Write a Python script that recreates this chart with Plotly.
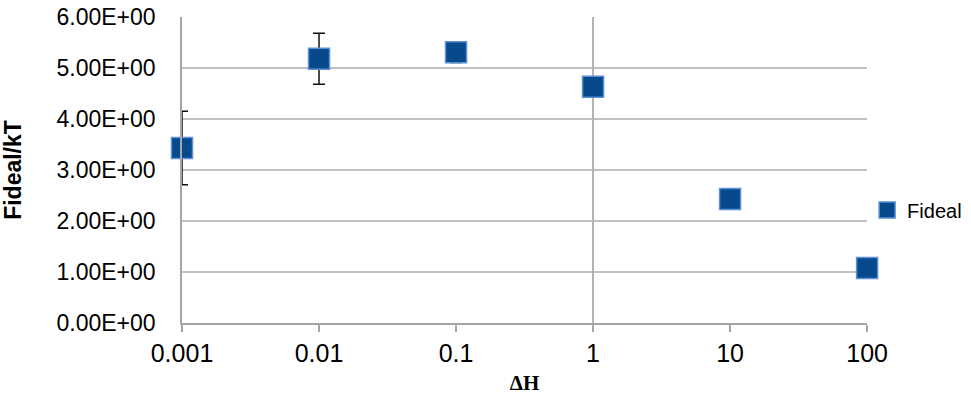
import plotly.graph_objects as go

dH = [0.001, 0.01, 0.1, 1, 10, 100]
fideal = [3.43, 5.18, 5.31, 4.63, 2.43, 1.08]
err = [0.72, 0.50, 0.20, 0.0, 0.0, 0.0]
y_ticks = [0, 1, 2, 3, 4, 5, 6]
y_tick_text = ["0.00E+00", "1.00E+00", "2.00E+00", "3.00E+00", "4.00E+00", "5.00E+00", "6.00E+00"]
x_ticks = [0.001, 0.01, 0.1, 1, 10, 100]
x_tick_text = ["0.001", "0.01", "0.1", "1", "10", "100"]
x_grid = [1, 100]

fig = go.Figure()
fig.add_trace(go.Scatter(
    x=dH, y=fideal, mode="markers", name="Fideal",
    marker=dict(symbol="square", size=21, color="#064A8C",
                line=dict(color="#5B8FD6", width=1.5)),
    error_y=dict(type="data", array=err, visible=True, color="#111111",
                 thickness=1.5, width=6),
    cliponaxis=False,
))
fig.add_trace(go.Scatter(x=[None], y=[None], xaxis="x2", showlegend=False, hoverinfo="skip"))

fig.update_layout(
    width=971, height=408,
    margin=dict(l=182, r=103, t=17, b=85),
    plot_bgcolor="white", paper_bgcolor="white",
    font=dict(family="Liberation Sans, Arial", size=23, color="#000000"),
    showlegend=True,
    legend=dict(xref="container", yref="container", x=0.893, y=0.485,
                xanchor="left", yanchor="middle",
                font=dict(size=20), itemsizing="trace",
                bgcolor="rgba(0,0,0,0)", borderwidth=0),
    xaxis=dict(type="log", range=[-3, 2], tickvals=x_ticks, ticktext=x_tick_text,
               tickfont=dict(size=25), automargin=False,
               showgrid=False, zeroline=False, showline=True, linecolor="#A6A6A6",
               linewidth=1.5, ticks="outside", ticklen=7, tickcolor="#A6A6A6",
               tickwidth=1.5,
               title=dict(text="<b>ΔH</b>", font=dict(family="Liberation Serif, DejaVu Serif", size=21),
                          standoff=10)),
    xaxis2=dict(type="log", range=[-3, 2], overlaying="x", tickvals=x_grid, automargin=False,
                showticklabels=False, showgrid=True, gridcolor="#B3B3B3", gridwidth=1.5,
                zeroline=False, showline=False, ticks=""),
    yaxis=dict(range=[0, 6], tickvals=y_ticks, ticktext=y_tick_text, automargin=False,
               showgrid=True, gridcolor="#C0C0C0", gridwidth=1.5, zeroline=False,
               showline=True, linecolor="#A6A6A6", linewidth=1.5,
               ticks="outside", ticklen=20, tickcolor="rgba(0,0,0,0)",
               ticklabeloverflow="allow",
               title=dict(text="<b>Fideal/kT</b>", font=dict(size=23), standoff=32)),
)

fig.write_html("out.html", config={"displayModeBar": False},
               post_script="document.body.style.margin='0';")
